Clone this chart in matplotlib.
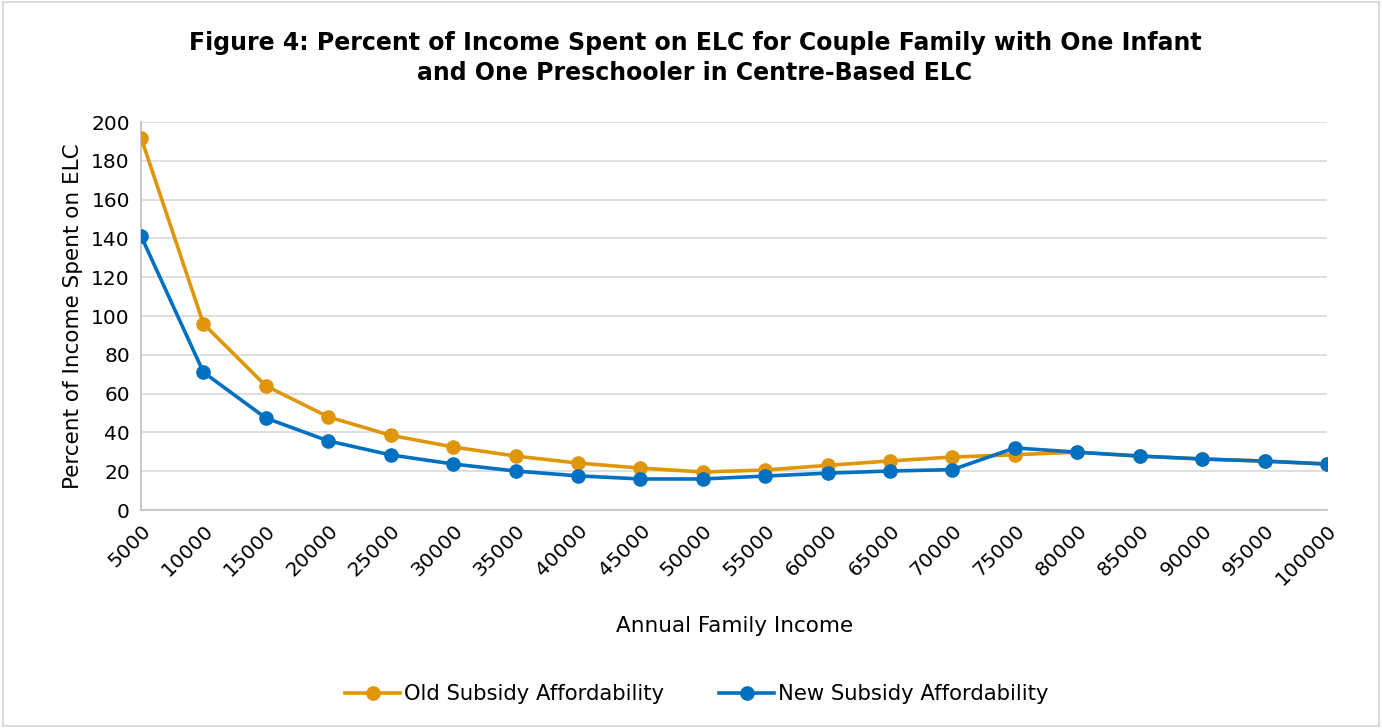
import matplotlib
matplotlib.use("Agg")
import matplotlib.pyplot as plt
from matplotlib.patches import Rectangle

incomes = [5000, 10000, 15000, 20000, 25000, 30000, 35000, 40000, 45000, 50000,
           55000, 60000, 65000, 70000, 75000, 80000, 85000, 90000, 95000, 100000]
old_subsidy = [192, 96, 64, 48, 38.5, 32.5, 27.8, 24.2, 21.6, 19.6,
               20.6, 23, 25.3, 27.3, 28.5, 29.8, 27.8, 26.3, 25.2, 23.7]
new_subsidy = [141.3, 71, 47.4, 35.6, 28.4, 23.7, 20.1, 17.6, 16, 16,
               17.5, 19, 20.1, 20.8, 32, 29.8, 27.8, 26.3, 25.2, 23.7]

OLD_COLOR = "#E0960A"
NEW_COLOR = "#0070C0"

plt.rcParams['font.family'] = ['DejaVu Sans']

fig = plt.figure(figsize=(13.82, 7.28), dpi=100)
ax = fig.add_axes([141/1382, 1 - 510/728, (1327-141)/1382, (510-122)/728])

x = list(range(len(incomes)))
ax.plot(x, old_subsidy, color=OLD_COLOR, lw=2.6, marker='o', markersize=9.5,
        label="Old Subsidy Affordability", zorder=3)
ax.plot(x, new_subsidy, color=NEW_COLOR, lw=2.6, marker='o', markersize=9.5,
        label="New Subsidy Affordability", zorder=4)

ax.set_xlim(0, len(incomes) - 1)
ax.set_ylim(0, 200)
ax.set_yticks(range(0, 201, 20))
ax.set_xticks(x)
ax.set_xticklabels([str(v) for v in incomes], rotation=45, ha='right',
                   rotation_mode='anchor', fontsize=14.5)
ax.tick_params(axis='y', labelsize=14.5, length=0, pad=8)
ax.tick_params(axis='x', length=0, pad=8)
ax.grid(axis='y', color='#D9D9D9', lw=1.2)
ax.set_axisbelow(True)
for s in ['top', 'right']:
    ax.spines[s].set_visible(False)
for s in ['left', 'bottom']:
    ax.spines[s].set_color('#BFBFBF')
    ax.spines[s].set_linewidth(1.2)

ax.set_ylabel("Percent of Income Spent on ELC", fontsize=15.5, labelpad=6)
fig.text(735/1382, 1 - 626/728, "Annual Family Income", fontsize=15.5,
         ha='center', va='center')

fig.text(695/1382, 1 - 58/728,
         "Figure 4: Percent of Income Spent on ELC for Couple Family with One Infant\n"
         "and One Preschooler in Centre-Based ELC",
         fontsize=17, fontweight='bold', ha='center', va='center',
         linespacing=1.3)

fig.legend(loc='center', bbox_to_anchor=(697/1382, 1 - 694/728), ncol=2,
           frameon=False, fontsize=15.2, handlelength=2.6, columnspacing=2.6,
           handletextpad=0.2)

fig.patches.append(Rectangle((0.002, 0.003), 0.996, 0.994, transform=fig.transFigure,
                             fill=False, edgecolor='#D9D9D9', lw=1.5))

fig.savefig("out.png", dpi=100, facecolor='white')
